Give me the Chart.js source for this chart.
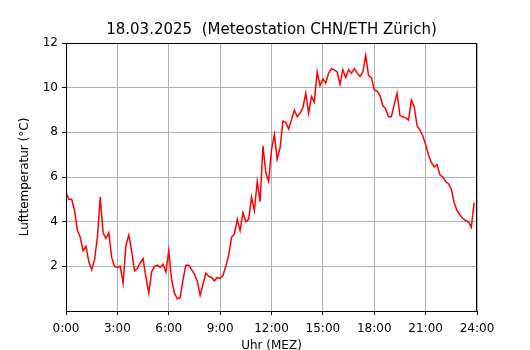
<!DOCTYPE html>
<html>
<head>
<meta charset="utf-8">
<script src="https://cdn.jsdelivr.net/npm/chart.js@4/dist/chart.umd.min.js"></script>
<style>
html,body{margin:0;padding:0;background:#fff;}
#wrap{width:530px;height:350px;}
</style>
</head>
<body>
<div id="wrap"><canvas id="c" width="530" height="350"></canvas></div>
<script>
// Temperature readings, every 10 minutes from 0:00 to 23:50 (°C)
const temps = [
  5.3, 5.0, 5.0, 4.5, 3.6, 3.3, 2.7, 2.9, 2.2, 1.85, 2.3, 3.3,
  5.1, 3.5, 3.25, 3.5, 2.4, 2.0, 1.95, 2.0, 1.25, 2.95, 3.4, 2.7,
  1.8, 1.9, 2.15, 2.35, 1.5, 0.8, 1.75, 2.0, 2.05, 1.95, 2.1, 1.75,
  2.7, 1.4, 0.8, 0.55, 0.6, 1.4, 2.05, 2.05, 1.85, 1.65, 1.35, 0.7,
  1.2, 1.7, 1.55, 1.5, 1.35, 1.5, 1.45, 1.6, 2.0, 2.5, 3.3, 3.45,
  4.1, 3.6, 4.4, 4.0, 4.1, 5.1, 4.5, 5.8, 4.9, 7.4, 6.2, 5.8,
  7.2, 7.9, 6.8, 7.3, 8.5, 8.45, 8.15, 8.55, 9.0, 8.7, 8.85, 9.1,
  9.75, 8.85, 9.6, 9.35, 10.7, 10.1, 10.4, 10.2, 10.65, 10.85, 10.8, 10.7,
  10.15, 10.8, 10.45, 10.8, 10.65, 10.85, 10.65, 10.5, 10.7, 11.45, 10.55, 10.45,
  9.9, 9.85, 9.65, 9.2, 9.05, 8.7, 8.7, 9.25, 9.75, 8.75, 8.7, 8.65,
  8.55, 9.45, 9.15, 8.3, 8.1, 7.85, 7.45, 7.0, 6.65, 6.45, 6.55, 6.1,
  6.0, 5.8, 5.7, 5.45, 4.85, 4.5, 4.3, 4.15, 4.05, 4.0, 3.75, 4.85
];
// Time of each reading in hours (10-minute steps)
const hours = temps.map((_, i) => i / 6);
const xTicks = [0, 3, 6, 9, 12, 15, 18, 21, 24];
const yTicks = [2, 4, 6, 8, 10, 12];
const titleText = '18.03.2025  (Meteostation CHN/ETH Zürich)';
const xLabel = 'Uhr (MEZ)';
const yLabel = 'Lufttemperatur (°C)';

const FONT = 'DejaVu Sans';

const framePlugin = {
  id: 'frame',
  afterDraw(chart) {
    const a = chart.chartArea, ctx = chart.ctx;
    ctx.save();
    ctx.strokeStyle = '#000';
    ctx.lineWidth = 1;
    ctx.strokeRect(Math.round(a.left) + 0.5, Math.round(a.top) + 0.5,
                   Math.round(a.right - a.left) - 1, Math.round(a.bottom - a.top));
    ctx.fillStyle = '#000';
    ctx.font = '15px "' + FONT + '"';
    ctx.textAlign = 'center';
    ctx.textBaseline = 'alphabetic';
    ctx.fillText(titleText, (a.left + a.right) / 2, 34);
    ctx.restore();
  }
};

new Chart(document.getElementById('c'), {
  type: 'line',
  data: {
    datasets: [{
      data: hours.map((h, i) => ({x: h, y: temps[i]})),
      borderColor: '#ff0000',
      borderWidth: 1.5,
      pointRadius: 0,
      tension: 0,
      fill: false
    }]
  },
  options: {
    responsive: false,
    devicePixelRatio: 1,
    animation: false,
    layout: {padding: {left: 0, right: 53, top: 43, bottom: 0}},
    plugins: {legend: {display: false}, title: {display: false}, tooltip: {enabled: false}},
    scales: {
      x: {
        type: 'linear', min: 0, max: 24,
        afterFit(s) { s.height = 39; },
        afterBuildTicks(s) { s.ticks = xTicks.map(v => ({value: v})); },
        ticks: {
          autoSkip: false, maxRotation: 0, color: '#000', padding: 7,
          font: {family: FONT, size: 12},
          callback: v => v + ':00'
        },
        grid: {color: '#b0b0b0', lineWidth: 1, tickColor: '#000', tickLength: 4, drawTicks: true},
        border: {display: true, color: '#000', width: 1},
        title: {display: true, text: xLabel, color: '#000', font: {family: FONT, size: 12}, padding: {top: 0, bottom: -3}}
      },
      y: {
        type: 'linear', min: 0, max: 12,
        afterFit(s) { s.width = 66; },
        afterBuildTicks(s) { s.ticks = yTicks.map(v => ({value: v})); },
        ticks: {color: '#000', padding: 4, font: {family: FONT, size: 12}},
        grid: {color: '#b0b0b0', lineWidth: 1, tickColor: '#000', tickLength: 4, drawTicks: true},
        border: {display: true, color: '#000', width: 1},
        title: {display: true, text: yLabel, color: '#000', font: {family: FONT, size: 12}, padding: {top: 18, bottom: 0}}
      }
    }
  },
  plugins: [framePlugin]
});
</script>
</body>
</html>
